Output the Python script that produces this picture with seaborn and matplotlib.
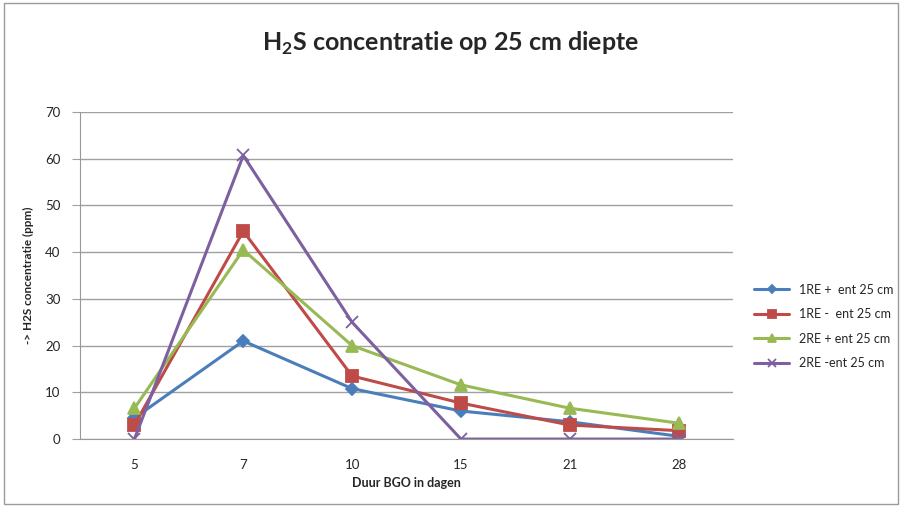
import numpy as np
import pandas as pd
import seaborn as sns
import matplotlib.pyplot as plt
from matplotlib.patches import Rectangle

# data
dagen = ['5', '7', '10', '15', '21', '28']
re1_plus = [4.5, 21, 10.8, 6, 3.7, 0.6]
re1_min = [3, 44.5, 13.5, 7.7, 3, 1.8]
re2_plus = [6.6, 40.5, 20, 11.6, 6.6, 3.4]
re2_min = [0, 60.7, 25, 0, 0, 0]
series_names = ['1RE +  ent 25 cm', '1RE -  ent 25 cm', '2RE + ent 25 cm', '2RE -ent 25 cm']

pos = np.arange(len(dagen))

sns.set_style('white')
plt.rcParams['font.family'] = ['Lato', 'DejaVu Sans']
plt.rcParams['mathtext.fontset'] = 'custom'
plt.rcParams['mathtext.bf'] = 'Lato:weight=bold'
plt.rcParams['mathtext.rm'] = 'Lato'

kleuren = ['#4A7EBB', '#BE4B48', '#98B954', '#7D60A0']
markers = ['D', 's', '^', 'x']
msizes = [6, 8, 8, 9]

fig = plt.figure(figsize=(9.02, 5.07), dpi=100)
fig.patches.append(Rectangle((0.004, 0.006), 0.992, 0.988, transform=fig.transFigure,
                             fill=False, edgecolor='#9a9a9a', linewidth=1.0))
ax = fig.add_axes([0.0887, 0.134, 0.724, 0.645])

# per serie tekenen (gevulde en lijn-markers mengen gaat niet in één aanroep)
for name, vals, c, m, ms in zip(series_names, [re1_plus, re1_min, re2_plus, re2_min],
                                kleuren, markers, msizes):
    sns.lineplot(x=pos, y=vals, color=c, marker=m, markersize=ms, markeredgecolor=c,
                 markeredgewidth=1.3, linewidth=2.2, label=name, ax=ax)

ax.set_xlim(-0.5, len(dagen) - 0.5)
ax.set_ylim(0, 70)
ax.set_yticks(range(0, 71, 10))
ax.set_xticks(pos)
ax.set_xticklabels(dagen)
ax.set_xticks(np.arange(-0.5, len(dagen), 1), minor=True)
ax.tick_params(axis='x', which='major', length=0, labelsize=9.5, pad=14)
ax.tick_params(axis='x', which='minor', length=4, color='#888888', direction='out')
ax.tick_params(axis='y', length=6, color='#a0a0a0', labelsize=9.5, direction='out', left=True, pad=8)
ax.yaxis.grid(True, color='#a0a0a0', linewidth=1.0)
ax.set_axisbelow(True)
for s in ['top', 'right']:
    ax.spines[s].set_visible(False)
for s in ['left', 'bottom']:
    ax.spines[s].set_color('#999999')

ax.set_xlabel('Duur BGO in dagen', fontsize=9, fontweight='bold', labelpad=5)
ax.set_ylabel('-> H2S concentratie (ppm)', fontsize=8.5, fontweight='bold', labelpad=8)

fig.text(0.5, 0.915, r'H$_\mathbf{2}$S concentratie op 25 cm diepte', ha='center',
         va='center', fontsize=18, fontweight='bold')

leg = ax.legend(loc='upper left', bbox_to_anchor=(1.015, 0.51), frameon=False,
                fontsize=9, handlelength=2.8, labelspacing=1.0, markerscale=0.7)

fig.savefig('out.png', dpi=100)
